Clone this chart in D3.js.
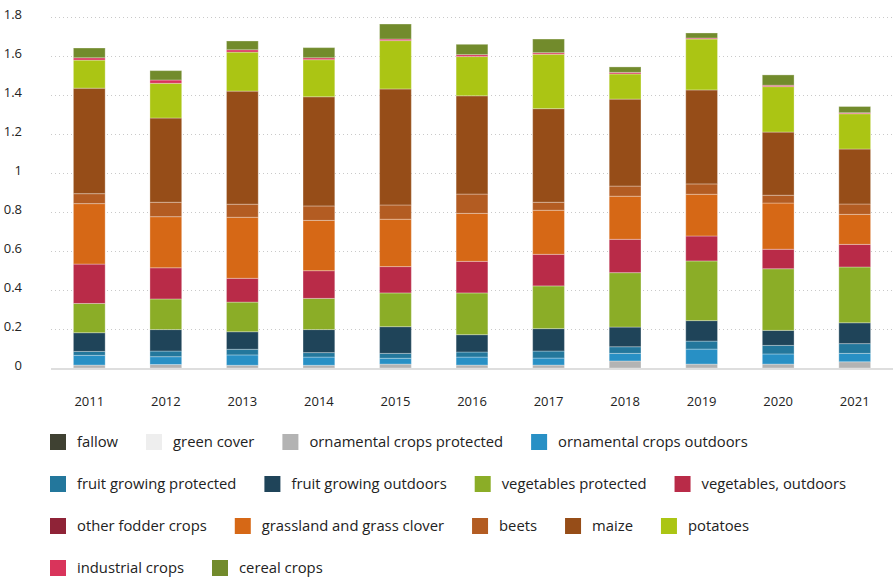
<!DOCTYPE html>
<html>
<head>
<meta charset="utf-8">
<script src="https://cdn.jsdelivr.net/npm/d3@7/dist/d3.min.js"></script>
<style>
  html, body { margin: 0; padding: 0; background: #fff; }
  svg { display: block; font-family: "Open Sans", "Noto Sans", sans-serif; }
</style>
</head>
<body>
<svg id="chart" width="893" height="577"></svg>
<script>
// Years on the x axis
const years = ["2011", "2012", "2013", "2014", "2015", "2016", "2017", "2018", "2019", "2020", "2021"];

// Series, in stacking order from the bottom up
const seriesNames = [
  "fallow", "green cover", "ornamental crops protected", "ornamental crops outdoors",
  "fruit growing protected", "fruit growing outdoors", "vegetables protected", "vegetables, outdoors",
  "other fodder crops", "grassland and grass clover", "beets", "maize", "potatoes",
  "industrial crops", "cereal crops"
];

const seriesColors = [
  "#3f4132", "#eeeeee", "#b3b3b3", "#2890c5",
  "#23779c", "#1f4459", "#8bad27", "#b92b48",
  "#8f2337", "#d66816", "#b35c22", "#964d18", "#abc514",
  "#d9345b", "#728b2c"
];

// Values per series, one per year
const fallow                = [0, 0, 0, 0, 0, 0, 0, 0, 0, 0, 0];
const greenCover            = [0, 0, 0, 0, 0, 0, 0, 0, 0, 0, 0];
const ornamentalProtected   = [0.015, 0.018, 0.014, 0.014, 0.020, 0.015, 0.015, 0.036, 0.020, 0.020, 0.032];
const ornamentalOutdoors    = [0.050, 0.040, 0.053, 0.042, 0.030, 0.041, 0.036, 0.039, 0.077, 0.052, 0.043];
const fruitProtected        = [0.020, 0.029, 0.029, 0.023, 0.025, 0.026, 0.036, 0.034, 0.041, 0.044, 0.050];
const fruitOutdoors         = [0.096, 0.110, 0.090, 0.118, 0.137, 0.089, 0.115, 0.101, 0.105, 0.077, 0.107];
const vegetablesProtected   = [0.150, 0.157, 0.152, 0.160, 0.173, 0.214, 0.219, 0.279, 0.306, 0.316, 0.286];
const vegetablesOutdoors    = [0.202, 0.160, 0.122, 0.142, 0.135, 0.162, 0.162, 0.171, 0.128, 0.100, 0.116];
const otherFodder           = [0, 0, 0, 0, 0, 0, 0, 0, 0, 0, 0];
const grassland             = [0.310, 0.262, 0.313, 0.258, 0.243, 0.246, 0.226, 0.221, 0.214, 0.237, 0.154];
const beets                 = [0.051, 0.074, 0.067, 0.074, 0.073, 0.099, 0.041, 0.052, 0.053, 0.040, 0.053];
const maize                 = [0.541, 0.432, 0.580, 0.560, 0.595, 0.504, 0.480, 0.446, 0.482, 0.324, 0.282];
const potatoes              = [0.144, 0.178, 0.200, 0.190, 0.248, 0.201, 0.279, 0.129, 0.261, 0.233, 0.181];
const industrial            = [0.012, 0.017, 0.012, 0.010, 0.008, 0.010, 0.008, 0.008, 0.005, 0.007, 0.005];
const cereal                = [0.050, 0.048, 0.045, 0.052, 0.077, 0.053, 0.070, 0.028, 0.026, 0.053, 0.032];

const seriesValues = [
  fallow, greenCover, ornamentalProtected, ornamentalOutdoors,
  fruitProtected, fruitOutdoors, vegetablesProtected, vegetablesOutdoors,
  otherFodder, grassland, beets, maize, potatoes, industrial, cereal
];

const yTicks = [0, 0.2, 0.4, 0.6, 0.8, 1, 1.2, 1.4, 1.6, 1.8];

// Table for d3.stack: one row per year
const table = years.map((yr, i) => {
  const row = { year: yr };
  seriesNames.forEach((name, s) => { row[name] = seriesValues[s][i]; });
  return row;
});

const svg = d3.select("#chart");
const plotLeft = 51, plotRight = 893, plotTop = 17, plotBottom = 368;

const x = d3.scaleBand()
  .domain(years)
  .range([plotLeft, plotRight])
  .paddingInner(0.585)
  .paddingOuter(0.2925);

const y = d3.scaleLinear()
  .domain([0, 1.8])
  .range([plotBottom, plotTop]);

const color = d3.scaleOrdinal().domain(seriesNames).range(seriesColors);

// Dotted gridlines
svg.append("g")
  .selectAll("line")
  .data(yTicks.filter(d => d > 0))
  .join("line")
  .attr("x1", plotLeft)
  .attr("x2", plotRight)
  .attr("y1", d => Math.round(y(d)) + 0.5)
  .attr("y2", d => Math.round(y(d)) + 0.5)
  .attr("stroke", "#c9c9c9")
  .attr("stroke-width", 1)
  .attr("stroke-dasharray", "1 3");

// Y axis labels
const yAxis = d3.axisLeft(y)
  .tickValues(yTicks)
  .tickSize(0)
  .tickPadding(0)
  .tickFormat(d => d3.format("~g")(d));

svg.append("g")
  .attr("transform", "translate(22,0)")
  .call(yAxis)
  .call(g => g.select(".domain").remove())
  .call(g => g.selectAll("text")
    .attr("dy", "0.1em")
    .attr("fill", "#222")
    .style("font-size", "13px")
    .style("font-family", "'Open Sans', sans-serif"));

// Stacked bars
const stacked = d3.stack().keys(seriesNames)(table);

svg.append("g")
  .selectAll("g")
  .data(stacked)
  .join("g")
  .attr("fill", d => color(d.key))
  .selectAll("rect")
  .data(d => d)
  .join("rect")
  .attr("x", d => x(d.data.year))
  .attr("width", x.bandwidth())
  .attr("y", d => y(d[1]))
  .attr("height", d => Math.max(0, y(d[0]) - y(d[1])))
  .attr("stroke", "rgba(255,255,255,0.3)")
  .attr("stroke-width", d => (d[1] - d[0]) > 0 ? 1 : 0);

// Baseline
svg.append("line")
  .attr("x1", plotLeft)
  .attr("x2", plotRight)
  .attr("y1", plotBottom + 1)
  .attr("y2", plotBottom + 1)
  .attr("stroke", "#dedede")
  .attr("stroke-width", 2);

// X axis labels
const xAxis = d3.axisBottom(x).tickSize(0).tickPadding(0);
svg.append("g")
  .attr("transform", `translate(0,${plotBottom})`)
  .call(xAxis)
  .call(g => g.select(".domain").remove())
  .call(g => g.selectAll("text")
    .attr("y", 38)
    .attr("dy", 0)
    .attr("fill", "#222")
    .style("font-size", "13px")
    .style("font-family", "'Open Sans', sans-serif"));

// Legend, flowing into rows
const legend = svg.append("g");
const legendLeft = 50, legendMaxRight = 875, rowTop = 434, rowGap = 42;
let cx = legendLeft, row = 0;
seriesNames.forEach((name, i) => {
  const item = legend.append("g");
  item.append("rect")
    .attr("width", 16)
    .attr("height", 16)
    .attr("fill", seriesColors[i]);
  const t = item.append("text")
    .attr("x", 27)
    .attr("y", 13)
    .attr("fill", "#222")
    .style("font-size", "14.8px")
    .text(name);
  const w = 27 + t.node().getComputedTextLength();
  if (cx + w > legendMaxRight && cx > legendLeft) {
    row += 1;
    cx = legendLeft;
  }
  item.attr("transform", `translate(${cx},${rowTop + row * rowGap})`);
  cx += w + 28;
});
</script>
</body>
</html>
